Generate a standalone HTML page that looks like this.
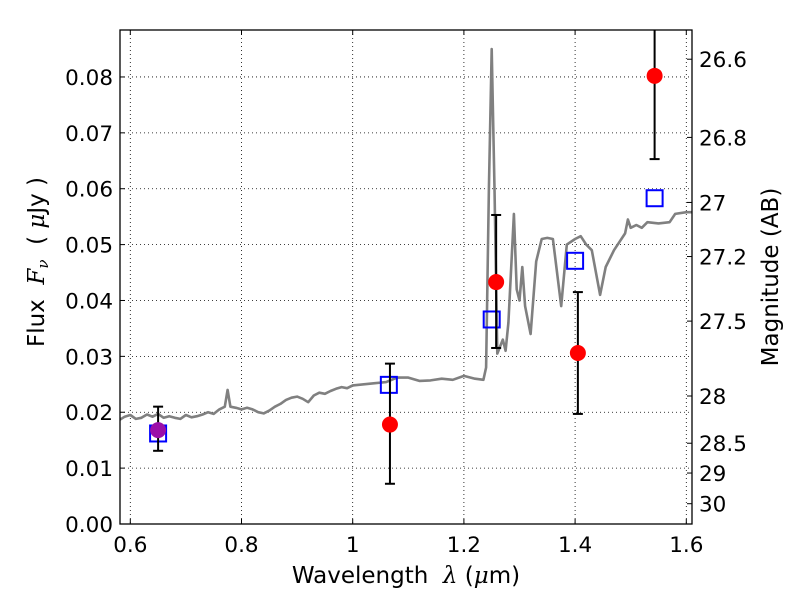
<!DOCTYPE html>
<html><head><meta charset="utf-8"><style>
body{margin:0;background:#fff;}
svg text{font-family:"DejaVu Sans","Liberation Sans",sans-serif;}
</style></head><body>
<svg id="c" width="800" height="600" xmlns="http://www.w3.org/2000/svg"></svg>
<script>
const xTicks=[0.6,0.8,1.0,1.2,1.4,1.6];
const xTickLabels=["0.6","0.8","1","1.2","1.4","1.6"];
const yTicks=[0,0.01,0.02,0.03,0.04,0.05,0.06,0.07,0.08];
const yTickLabels=["0.00","0.01","0.02","0.03","0.04","0.05","0.06","0.07","0.08"];
const magTicks=[26.6,26.8,27,27.2,27.5,28,28.5,29,30];
const magTickLabels=["26.6","26.8","27","27.2","27.5","28","28.5","29","30"];
const specWave=[0.58,0.59,0.60,0.61,0.62,0.63,0.64,0.65,0.66,0.67,0.68,0.69,0.70,0.71,0.72,0.73,0.74,0.75,0.76,0.77,0.775,0.78,0.79,0.80,0.81,0.82,0.83,0.84,0.85,0.86,0.87,0.88,0.89,0.90,0.91,0.92,0.93,0.94,0.95,0.96,0.97,0.98,0.99,1.0,1.02,1.04,1.06,1.08,1.10,1.12,1.14,1.16,1.18,1.20,1.22,1.235,1.24,1.245,1.25,1.255,1.26,1.27,1.275,1.28,1.29,1.295,1.30,1.305,1.31,1.32,1.33,1.34,1.35,1.36,1.375,1.385,1.40,1.41,1.42,1.43,1.445,1.455,1.47,1.49,1.495,1.50,1.51,1.52,1.53,1.55,1.57,1.58,1.60,1.61];
const specFlux=[0.0186,0.0192,0.0195,0.0188,0.019,0.0196,0.0192,0.0197,0.019,0.0193,0.019,0.0188,0.0195,0.0191,0.0193,0.0196,0.0200,0.0197,0.0205,0.021,0.024,0.021,0.0208,0.0205,0.0208,0.0205,0.0200,0.0198,0.0203,0.021,0.0215,0.0222,0.0226,0.0228,0.0224,0.0218,0.0230,0.0235,0.0233,0.0238,0.0242,0.0245,0.0243,0.0248,0.025,0.0252,0.0254,0.0262,0.0262,0.0256,0.0257,0.026,0.0258,0.0265,0.026,0.0258,0.028,0.060,0.085,0.060,0.0305,0.033,0.031,0.036,0.0555,0.042,0.040,0.046,0.039,0.034,0.047,0.051,0.0512,0.051,0.039,0.050,0.051,0.0515,0.050,0.049,0.041,0.046,0.049,0.052,0.0545,0.053,0.0535,0.053,0.054,0.0538,0.054,0.0555,0.0558,0.0558];
const obsWave=[0.65,1.067,1.258,1.405,1.543];
const obsFlux=[0.0168,0.0178,0.0433,0.0306,0.0802];
const obsLo=[0.0131,0.0072,0.0315,0.0197,0.0653];
const obsHi=[0.0210,0.0287,0.0553,0.0415,0.0950];
const modWave=[0.65,1.065,1.25,1.40,1.543];
const modFlux=[0.0162,0.0249,0.0366,0.0471,0.0583];

const NS="http://www.w3.org/2000/svg";
const svg=document.getElementById('c');
const L=120,R=692,T=30,B=524;
const X=w=>130.3+(w-0.6)*556;
const Y=f=>B-f*5588;
function mk(tag,attrs,parent){const e=document.createElementNS(NS,tag);for(const k in attrs)e.setAttribute(k,attrs[k]);(parent||svg).appendChild(e);return e;}
const clip=mk('clipPath',{id:'cp'});mk('rect',{x:L,y:T,width:R-L,height:B-T},clip);
xTicks.forEach((t,i)=>{const x=X(t);
 const g=mk('line',{x1:x,x2:x,y1:T,y2:B,stroke:'#000','stroke-width':0.8,'stroke-dasharray':'1,3'});
 
 mk('line',{x1:x,x2:x,y1:B,y2:B-5,stroke:'#000'});mk('line',{x1:x,x2:x,y1:T,y2:T+5,stroke:'#000'});
 const tx=mk('text',{x:x,y:B+28,'text-anchor':'middle','font-size':21.5});tx.textContent=xTickLabels[i];
 });
yTicks.forEach((t,i)=>{const y=Y(t);
 const g=mk('line',{x1:L,x2:R,y1:y,y2:y,stroke:'#000','stroke-width':0.8,'stroke-dasharray':'1,3'});
 
 mk('line',{x1:L,x2:L+5,y1:y,y2:y,stroke:'#000'});
 const tx=mk('text',{x:L-7,y:y+8,'text-anchor':'end','font-size':21.5});tx.textContent=yTickLabels[i];
 });
magTicks.forEach((m,i)=>{const f=Math.pow(10,(23.9-m)/2.5);const y=Y(f);
 mk('line',{x1:R,x2:R-5,y1:y,y2:y,stroke:'#000'});
 const tx=mk('text',{x:R+7,y:y+8,'font-size':21.5});tx.textContent=magTickLabels[i];
 });
const pts=specWave.map((w,i)=>X(w).toFixed(1)+','+Y(specFlux[i]).toFixed(1)).join(' ');
const sp=mk('polyline',{points:pts,fill:'none',stroke:'#808080','stroke-width':2.6,'stroke-linejoin':'round','clip-path':'url(#cp)'});

modWave.forEach((w,i)=>{const s=mk('rect',{x:X(w)-8,y:Y(modFlux[i])-8,width:16,height:16,fill:'none',stroke:'#0000ff','stroke-width':2,'clip-path':'url(#cp)'});
 });
obsWave.forEach((w,i)=>{const x=X(w);
 const e=mk('g',{'clip-path':'url(#cp)'});
 
 mk('line',{x1:x,x2:x,y1:Y(obsLo[i]),y2:Y(obsHi[i]),stroke:'#000','stroke-width':2},e);
 mk('line',{x1:x-5,x2:x+5,y1:Y(obsLo[i]),y2:Y(obsLo[i]),stroke:'#000','stroke-width':2},e);
 mk('line',{x1:x-5,x2:x+5,y1:Y(obsHi[i]),y2:Y(obsHi[i]),stroke:'#000','stroke-width':2},e);
 const c=mk('circle',{cx:x,cy:Y(obsFlux[i]),r:8,fill:i===0?'#9b0fa8':'#ff0000','clip-path':'url(#cp)'});
 });
const fr=mk('rect',{x:L,y:T,width:R-L,height:B-T,fill:'none',stroke:'#000','stroke-width':1.3});

const xl=mk('text',{x:406,y:583,'text-anchor':'middle','font-size':23});
xl.innerHTML='Wavelength&#160;&#160;<tspan font-family="DejaVu Serif" font-style="italic">λ</tspan> (<tspan font-family="DejaVu Serif" font-style="italic">μ</tspan>m)';

const yl=mk('text',{x:0,y:0,'text-anchor':'middle','font-size':23,transform:'translate(44,262) rotate(-90)'});
yl.innerHTML='Flux&#160;&#160;<tspan font-family="DejaVu Serif" font-style="italic">F<tspan font-size="15" dy="4">ν</tspan></tspan><tspan dy="-4">&#160;&#160;(&#160;<tspan font-family="DejaVu Serif" font-style="italic">μ</tspan>Jy )</tspan>';

const ml=mk('text',{x:0,y:0,'text-anchor':'middle','font-size':23,transform:'translate(778,277) rotate(-90)'});
ml.textContent='Magnitude (AB)';

</script>
</body></html>
